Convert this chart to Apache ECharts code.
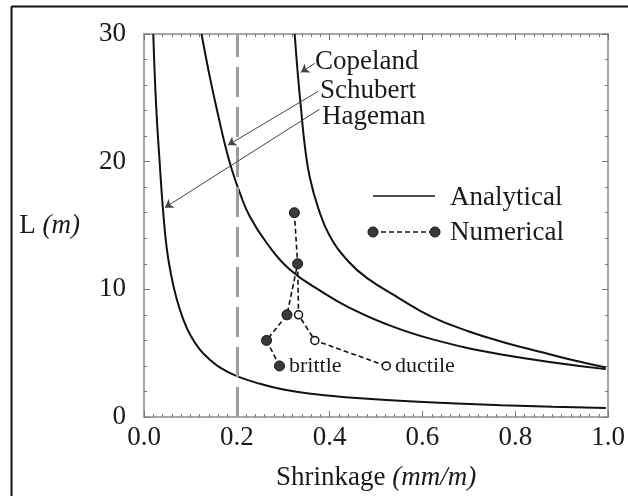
<!DOCTYPE html>
<html>
<head>
<meta charset="utf-8">
<script src="https://cdn.jsdelivr.net/npm/echarts/dist/echarts.min.js"></script>
<style>
  html, body { margin: 0; padding: 0; background: #fff; }
  #main { width: 628px; height: 496px; }
</style>
</head>
<body>
<div id="main"></div>
<script>
// analytical curves: [shrinkage, L]
var copeland = [[0.3247,30],[0.332,26.6],[0.339,23.9],[0.346,21.4],[0.357,18.8],[0.376,16.3],[0.40,14.2],[0.44,12.2],[0.48,10.9],[0.55,9.3],[0.62,7.85],[0.70,6.7],[0.78,5.8],[0.86,5.05],[0.93,4.4],[0.995,3.88]];
var schubert = [[0.124,30],[0.142,26.6],[0.16,23.6],[0.174,21.4],[0.189,19.4],[0.2065,17.55],[0.228,15.7],[0.264,13.65],[0.314,11.56],[0.386,9.74],[0.443,8.55],[0.52,7.3],[0.62,6.1],[0.77,4.9],[0.995,3.75]];
var hageman = [[0.02,30],[0.026,24.5],[0.034,19.8],[0.041,16.2],[0.049,13.2],[0.058,11.2],[0.07,9.3],[0.085,7.6],[0.10,6.4],[0.12,5.3],[0.14,4.55],[0.165,3.85],[0.2,3.2],[0.25,2.6],[0.3,2.15],[0.37,1.78],[0.45,1.5],[0.55,1.27],[0.66,1.08],[0.77,0.92],[0.88,0.8],[0.995,0.7]];

// numerical results
var brittle = [[0.324,16],[0.331,12],[0.308,8],[0.264,6],[0.292,4]];
var ductile = [[0.331,12],[0.333,8],[0.368,6],[0.522,4]];

var xTicks = ['0.0','0.2','0.4','0.6','0.8','1.0'];
var limitShrinkage = 0.2;

// arrows from the curve names to the curves
var arrows = [
  [[0.368,27.7],[0.338,27.0]],
  [[0.375,25.5],[0.181,21.3]],
  [[0.378,24.1],[0.045,16.4]]
];

var FONT = 'Liberation Serif';
var INK = '#1a1a1a';
var FRAME = '#8a8a8a';

var chart = echarts.init(document.getElementById('main'), null, {renderer: 'canvas'});

function frameAxis(pos, isX, showLabel) {
  var ax = {
    type: 'value',
    position: pos,
    min: 0,
    max: isX ? 1 : 30,
    interval: isX ? 0.2 : 10,
    axisLine: {show: true, onZero: false, lineStyle: {color: FRAME, width: 1.5}},
    axisTick: {show: true, inside: true, length: 6, lineStyle: {color: '#777', width: 1}},
    minorTick: {show: true, splitNumber: isX ? 10 : 5, length: 3, lineStyle: {color: '#777', width: 1}},
    splitLine: {show: false},
    axisLabel: {show: showLabel, fontFamily: FONT, fontSize: 27, color: INK}
  };
  if (isX) {
    ax.axisLabel.margin = 7;
    ax.axisLabel.formatter = function (v) { return xTicks[Math.round(v / 0.2)]; };
  } else {
    ax.axisLabel.margin = 18;
  }
  return ax;
}

var xMain = frameAxis('bottom', true, true);
xMain.name = 'Shrinkage {i|(mm/m)}';
xMain.nameLocation = 'middle';
xMain.nameGap = 47;
xMain.nameTextStyle = {fontFamily: FONT, fontSize: 27, color: INK,
  rich: {i: {fontFamily: FONT, fontSize: 27, fontStyle: 'italic', color: INK}}};

var yMain = frameAxis('left', false, true);
yMain.name = 'L {i|(m)}';
yMain.nameLocation = 'middle';
yMain.nameRotate = 0;
yMain.nameGap = 64;
yMain.nameTextStyle = {fontFamily: FONT, fontSize: 27, color: INK,
  rich: {i: {fontFamily: FONT, fontSize: 27, fontStyle: 'italic', color: INK}}};

function curve(name, data) {
  return {
    name: name, type: 'line', data: data,
    xAxisIndex: 0, yAxisIndex: 0,
    smooth: 0.45,
    symbol: 'none',
    lineStyle: {color: '#111', width: 2},
    silent: true
  };
}

var hagemanSeries = curve('Hageman', hageman);
hagemanSeries.markLine = {
  silent: true,
  symbol: 'none',
  label: {show: false},
  data: [
    // dashed limit line at 0.2 mm/m
    {xAxis: limitShrinkage, lineStyle: {type: [30, 10], width: 3, color: '#9c9c9c'}}
  ].concat(arrows.map(function (a) {
    return [
      {coord: a[0], symbol: 'none'},
      {coord: a[1], symbol: 'arrow', symbolSize: 8}
    ];
  })),
  lineStyle: {type: 'solid', width: 1, color: '#444'}
};

var option = {
  animation: false,
  backgroundColor: '#fff',
  grid: {left: 144, right: 19, top: 34, bottom: 78, containLabel: false},
  xAxis: [xMain, frameAxis('top', true, false)],
  yAxis: [yMain, frameAxis('right', false, false)],
  series: [
    curve('Copeland', copeland),
    curve('Schubert', schubert),
    hagemanSeries,
    {
      name: 'brittle', type: 'line',
      data: brittle.map(function (p, i) {
        if (i === brittle.length - 1) {
          return {value: p, label: {show: true, position: 'right', distance: 4, formatter: 'brittle',
            fontFamily: FONT, fontSize: 22, color: INK}};
        }
        return p;
      }),
      symbol: 'circle', symbolSize: 10,
      itemStyle: {color: '#3a3a3a', borderColor: '#111', borderWidth: 1},
      lineStyle: {color: '#111', width: 1.6, type: [5, 3]},
      z: 5, silent: true
    },
    {
      name: 'ductile', type: 'line',
      data: ductile.map(function (p, i) {
        if (i === 0) return {value: p, symbol: 'none'};
        if (i === ductile.length - 1) {
          return {value: p, label: {show: true, position: 'right', distance: 4, formatter: 'ductile',
            fontFamily: FONT, fontSize: 22, color: INK}};
        }
        return p;
      }),
      symbol: 'circle', symbolSize: 8,
      itemStyle: {color: '#fff', borderColor: '#111', borderWidth: 1.5},
      lineStyle: {color: '#111', width: 1.6, type: [5, 3]},
      z: 4, silent: true
    }
  ],
  graphic: [
    // outer border of the figure (left and top edges)
    {type: 'line', shape: {x1: 11.5, y1: 6.5, x2: 628, y2: 6.5}, style: {stroke: '#111', lineWidth: 2}},
    {type: 'line', shape: {x1: 11.5, y1: 6.5, x2: 11.5, y2: 496}, style: {stroke: '#111', lineWidth: 2}},
    // curve names
    {type: 'text', x: 315, y: 62, style: {text: 'Copeland', fontFamily: FONT, fontSize: 27, fill: INK, verticalAlign: 'middle'}},
    {type: 'text', x: 320, y: 91, style: {text: 'Schubert', fontFamily: FONT, fontSize: 27, fill: INK, verticalAlign: 'middle'}},
    {type: 'text', x: 322, y: 117, style: {text: 'Hageman', fontFamily: FONT, fontSize: 27, fill: INK, verticalAlign: 'middle'}},
    // legend
    {type: 'line', shape: {x1: 373, y1: 196, x2: 435, y2: 196}, style: {stroke: '#111', lineWidth: 1.6}},
    {type: 'text', x: 450, y: 198, style: {text: 'Analytical', fontFamily: FONT, fontSize: 27, fill: INK, verticalAlign: 'middle'}},
    {type: 'line', shape: {x1: 373, y1: 232, x2: 435, y2: 232}, style: {stroke: '#111', lineWidth: 1.6, lineDash: [5, 3]}},
    {type: 'circle', shape: {cx: 373, cy: 232, r: 5}, style: {fill: '#3a3a3a', stroke: '#111', lineWidth: 1}},
    {type: 'circle', shape: {cx: 435, cy: 232, r: 5}, style: {fill: '#3a3a3a', stroke: '#111', lineWidth: 1}},
    {type: 'text', x: 450, y: 233, style: {text: 'Numerical', fontFamily: FONT, fontSize: 27, fill: INK, verticalAlign: 'middle'}}
  ]
};

chart.setOption(option);
</script>
</body>
</html>
